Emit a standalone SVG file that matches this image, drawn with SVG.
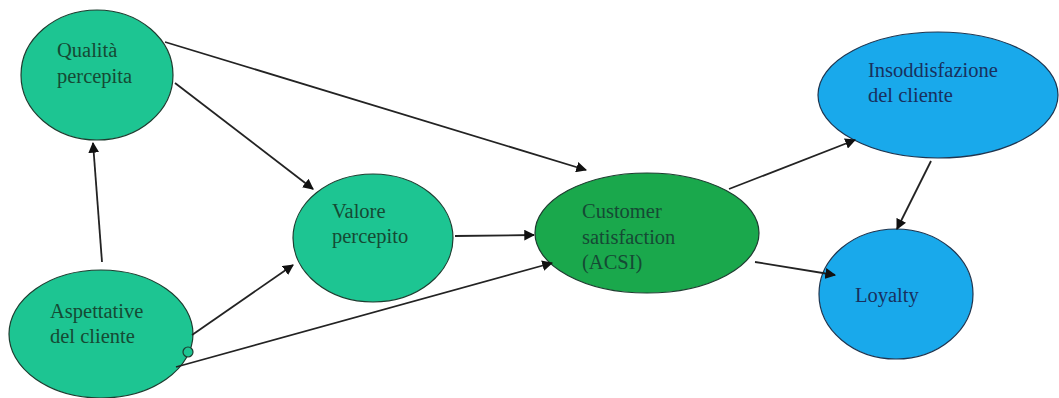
<svg xmlns="http://www.w3.org/2000/svg" width="1059" height="398" viewBox="0 0 1059 398">
  <style>
    .teal { fill: #1dc592; stroke: #1e3d30; stroke-width: 1.2; }
    .green { fill: #1aa84c; stroke: #1e3d30; stroke-width: 1.2; }
    .blue { fill: #19a9eb; stroke: #1e3550; stroke-width: 1.2; }
    .lbl { font-family: "Liberation Serif", "Times New Roman", serif; font-size: 20.5px; }
    .lg { fill: #154a34; }
    .lb { fill: #18305e; }
    .edge { stroke: #232323; stroke-width: 1.8; fill: none; marker-end: url(#arrow); }
  </style>
  <defs>
    <marker id="arrow" viewBox="0 0 10 10" refX="9" refY="5" markerWidth="6" markerHeight="6" orient="auto" markerUnits="strokeWidth">
      <path d="M0,0 L10,5 L0,10 z" fill="#111"/>
    </marker>
  </defs>
  <rect width="1059" height="398" fill="#ffffff"/>

  <g id="qualita">
    <ellipse class="teal" cx="97" cy="75" rx="76" ry="65"/>
    <text class="lbl lg" x="57" y="57">Qualità</text>
    <text class="lbl lg" x="57" y="83">percepita</text>
  </g>

  <g id="aspettative">
    <ellipse class="teal" cx="101" cy="334" rx="92" ry="64"/>
    <circle class="teal" cx="188" cy="352" r="5"/>
    <text class="lbl lg" x="50" y="318">Aspettative</text>
    <text class="lbl lg" x="50" y="343">del cliente</text>
  </g>

  <g id="valore">
    <ellipse class="teal" cx="373" cy="238" rx="80" ry="64"/>
    <text class="lbl lg" x="332" y="218">Valore</text>
    <text class="lbl lg" x="332" y="243">percepito</text>
  </g>

  <g id="customer-satisfaction">
    <ellipse class="green" cx="647" cy="233" rx="112" ry="60"/>
    <text class="lbl lg" x="582" y="218">Customer</text>
    <text class="lbl lg" x="582" y="244">satisfaction</text>
    <text class="lbl lg" x="582" y="269">(ACSI)</text>
  </g>

  <g id="insoddisfazione">
    <ellipse class="blue" cx="938" cy="95" rx="120" ry="63"/>
    <text class="lbl lb" x="868" y="77">Insoddisfazione</text>
    <text class="lbl lb" x="868" y="102">del cliente</text>
  </g>

  <g id="loyalty">
    <ellipse class="blue" cx="896" cy="294" rx="77" ry="65"/>
    <text class="lbl lb" x="855" y="302">Loyalty</text>
  </g>

  <!-- connectors are drawn last so arrowheads sit on top of the node fills -->
  <g id="connectors">
    <line class="edge" x1="165" y1="42" x2="586" y2="170"/>
    <line class="edge" x1="175" y1="83" x2="313" y2="189"/>
    <line class="edge" x1="102" y1="262" x2="93" y2="143"/>
    <line class="edge" x1="192" y1="335" x2="293" y2="265"/>
    <line class="edge" x1="176" y1="367" x2="552" y2="263"/>
    <line class="edge" x1="455" y1="236" x2="534" y2="235"/>
    <line class="edge" x1="729" y1="189" x2="855" y2="140"/>
    <line class="edge" x1="755" y1="262" x2="835" y2="275"/>
    <line class="edge" x1="931" y1="161" x2="897" y2="229"/>
  </g>
</svg>
